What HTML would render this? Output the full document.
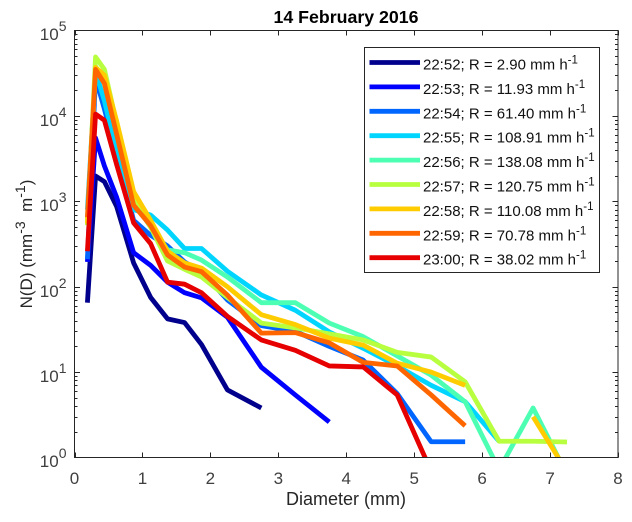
<!DOCTYPE html>
<html>
<head>
<meta charset="utf-8">
<title>14 February 2016</title>
<style>
html,body{margin:0;padding:0;background:#fff;}
svg{display:block;font-family:"Liberation Sans",Arial,sans-serif;}
</style>
</head>
<body>
<svg id="chart" xmlns="http://www.w3.org/2000/svg" width="632" height="522" viewBox="0 0 632 522">
<defs><clipPath id="plot-clip"><rect x="74.5" y="30.5" width="543.5" height="427"/></clipPath></defs>
<rect x="0" y="0" width="632" height="522" fill="#fff"/>
<g id="series-layer" clip-path="url(#plot-clip)"></g>
<g id="axes-layer"></g>
<text x="346" y="23" text-anchor="middle" font-size="17.5" font-weight="bold" fill="#000" textLength="145" lengthAdjust="spacingAndGlyphs">14 February 2016</text>
<text x="346" y="505" text-anchor="middle" font-size="18" fill="#262626">Diameter (mm)</text>
<text transform="translate(32 244) rotate(-90)" text-anchor="middle" font-size="17" fill="#262626">N(D) (mm<tspan dy="-7" font-size="14">-3</tspan><tspan dy="7">&#160;&#160;m</tspan><tspan dy="-7" font-size="14">-1</tspan><tspan dy="7">)</tspan></text>
<g id="legend-layer"></g>
</svg>
<script>
var diameters = [0.19,0.31,0.44,0.62,0.87,1.12,1.37,1.62,1.87,2.25,2.75,3.25,3.75,4.25,4.75,5.25,5.75,6.25,6.75,7.25];
var series2252 = [65,1980,1700,870,190,75,42,38,21,6.2,3.8];
var series2253 = [195,5500,2600,1120,250,178,113,85,74,44,11.4,5.4,2.6];
var series2254 = [210,28000,12000,3500,600,400,300,195,150,70,35,30,20,13.8,5.6,1.53,1.53];
var series2255 = [800,33000,15000,3800,800,690,460,280,280,152,80,53,29.6,19,11.8,7,4.5,1.55];
var series2256 = [600,38000,25000,6500,1000,500,270,250,205,130,65,65,37.5,26,15.5,9.2,4.5,0.72,3.8,0.63];
var series2257 = [525,49000,35000,8200,1100,500,200,160,130,75,37.5,33,28,23.8,17,15,7.7,1.55,1.55,1.52];
var series2258 = [550,37000,30000,8700,1300,600,260,190,165,100,47,36,25,20.7,12.7,10,7,null,3,0.68];
var series2259 = [650,35000,24000,6100,900,520,235,170,150,80,28.6,29,22,13,11.8,5.4,2.35];
var series2300 = [260,10500,8900,2700,560,320,113,107,85,45,23.8,18,11.8,11.5,5.4,0.69];
var seriesValues = [series2252,series2253,series2254,series2255,series2256,series2257,series2258,series2259,series2300];
var seriesColors = ["#00008c","#0000ff","#0066ff","#00d5ff","#4dffb2","#b8ff40","#ffcc00","#ff6600","#e60000"];
var seriesTimes = ["22:52","22:53","22:54","22:55","22:56","22:57","22:58","22:59","23:00"];
var seriesRates = ["2.90","11.93","61.40","108.91","138.08","120.75","110.08","70.78","38.02"];
var xTickLabels = [0,1,2,3,4,5,6,7,8];
var yTickExponents = [0,1,2,3,4,5];

var NS = "http://www.w3.org/2000/svg";
var X0 = 74.5, X1 = 618, Y0 = 457.5, Y1 = 30.5;
function xScale(d){ return X0 + (d / 8) * (X1 - X0); }
function yScale(v){ return Y0 - (Math.log(v) / Math.LN10 / 5) * (Y0 - Y1); }
function make(tag, attrs){
  var el = document.createElementNS(NS, tag);
  for (var k in attrs) el.setAttribute(k, attrs[k]);
  return el;
}
var seriesLayer = document.getElementById("series-layer");
var axesLayer = document.getElementById("axes-layer");
var legendLayer = document.getElementById("legend-layer");

seriesValues.forEach(function(vals, s){
  var d = "", pen = false;
  vals.forEach(function(v, i){
    if (v === null) { pen = false; return; }
    d += (pen ? "L" : "M") + xScale(diameters[i]).toFixed(2) + " " + yScale(v).toFixed(2);
    pen = true;
  });
  var line = make("path", {d:d, fill:"none", stroke:seriesColors[s], "stroke-width":4.8, "stroke-linejoin":"round", "stroke-linecap":"butt"});
  
  
  seriesLayer.appendChild(line);
});

var axisColor = "#262626";
var box = make("rect", {x:X0, y:Y1, width:X1-X0, height:Y0-Y1, fill:"none", stroke:axisColor, "stroke-width":1});


axesLayer.appendChild(box);

function tick(x1,y1,x2,y2){
  var t = make("line", {x1:x1,y1:y1,x2:x2,y2:y2,stroke:axisColor,"stroke-width":1});
  
  
  axesLayer.appendChild(t);
}
xTickLabels.forEach(function(t){
  var x = Math.round(xScale(t)) + 0.5;
  tick(x, Y0, x, Y0-5);
  tick(x, Y1, x, Y1+5);
  var lab = make("text", {x:xScale(t), y:484, "text-anchor":"middle", "font-size":17, fill:"#404040"});
  
  
  lab.textContent = String(t);
  axesLayer.appendChild(lab);
});
yTickExponents.forEach(function(e){
  var y = Math.round(yScale(Math.pow(10, e))) + 0.5;
  if (e === 0) y = Y0;
  if (e === 5) y = Y1;
  tick(X0, y, X0+5.5, y);
  tick(X1, y, X1-5.5, y);
  if (e < 5) {
    for (var m = 2; m <= 9; m++) {
      var my = Math.round(yScale(m * Math.pow(10, e))) + 0.5;
      tick(X0, my, X0+3, my);
      tick(X1, my, X1-3, my);
    }
  }
  var lab = make("text", {x:66.5, y:y+9.5, "text-anchor":"end", "font-size":17, fill:"#404040"});
  
  
  var ts1 = make("tspan", {});
  ts1.textContent = "10";
  var ts2 = make("tspan", {dy:-9, "font-size":14});
  ts2.textContent = String(e);
  lab.appendChild(ts1);
  lab.appendChild(ts2);
  axesLayer.appendChild(lab);
});

var legendBox = make("rect", {x:364.5, y:47.5, width:235, height:225, fill:"#fff", stroke:axisColor, "stroke-width":1});


legendLayer.appendChild(legendBox);
seriesTimes.forEach(function(t, i){
  var y = 62.5 + i * 24.4;
  var sw = make("line", {x1:369.5, y1:y, x2:420, y2:y, stroke:seriesColors[i], "stroke-width":4.8});
  
  
  legendLayer.appendChild(sw);
  var lab = make("text", {x:423, y:y+7, "font-size":15, fill:"#111"});
  
  
  var a = make("tspan", {});
  a.textContent = t + "; R = " + seriesRates[i] + " mm h";
  var b = make("tspan", {dy:-6, "font-size":11.5});
  b.textContent = "-1";
  lab.appendChild(a);
  lab.appendChild(b);
  legendLayer.appendChild(lab);
});
</script>
</body>
</html>
